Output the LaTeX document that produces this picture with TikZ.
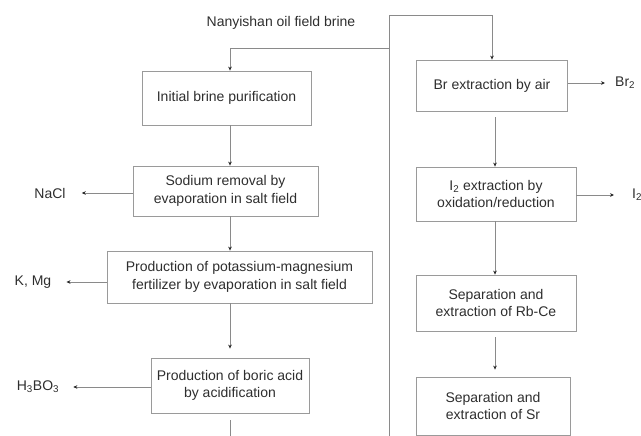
\documentclass[tikz,border=0pt]{standalone}
\usepackage{fontspec}
\setmainfont{Liberation Sans}
\usetikzlibrary{arrows.meta}
\definecolor{txt}{HTML}{2E2E2E}
\definecolor{ln}{HTML}{8A8A8A}
\definecolor{bx}{HTML}{9A9A9A}
\tikzset{
  procbox/.style={draw=bx, line width=0.8pt, rectangle, align=center, inner sep=0pt,
    text=txt, font=\fontsize{14}{17.5}\selectfont},
  lbl/.style={inner sep=0pt, text=txt, font=\fontsize{14}{17}\selectfont},
  conn/.style={draw=ln, line width=0.8pt},
  arr/.style={conn, -{Stealth[length=4pt,width=3.6pt,color=black!85]}}
}
\begin{document}
\begin{tikzpicture}[x=1pt,y=-1pt]
\useasboundingbox (0,0) rectangle (641,436);
% boxes
\node[procbox, minimum width=169pt, minimum height=54pt] (init) at (226.5,98) {Initial brine purification};
\node[procbox, minimum width=185pt, minimum height=50pt] (sod) at (225.5,191) {Sodium removal by\\evaporation in salt field};
\node[procbox, minimum width=265pt, minimum height=52pt] (pot) at (239.5,277) {Production of potassium-magnesium\\fertilizer by evaporation in salt field};
\node[procbox, minimum width=158pt, minimum height=55pt] (bor) at (230,385.5) {Production of boric acid\\by acidification};
\node[procbox, minimum width=151pt, minimum height=51pt] (br) at (492,85.5) {Br extraction by air};
\node[procbox, minimum width=160pt, minimum height=54pt] (iod) at (496,194) {I\textsubscript{2} extraction by\\oxidation/reduction};
\node[procbox, minimum width=160pt, minimum height=56pt] (rb) at (496,303) {Separation and\\extraction of Rb-Ce};
\node[procbox, minimum width=154pt, minimum height=58pt] (sr) at (493,406) {Separation and\\extraction of Sr};
% labels
\node[lbl] (title) at (281,23) {Nanyishan oil field brine};
\node[lbl] (nacl) at (50,193) {NaCl};
\node[lbl] (kmg) at (33,282) {K, Mg};
\node[lbl] (hbo) at (38,387) {H\textsubscript{3}BO\textsubscript{3}};
\node[lbl, anchor=west] (brtwo) at (615,83) {Br\textsubscript{2}};
\node[lbl, anchor=west] (itwo) at (632,195) {I\textsubscript{2}};
% routing coordinates
\coordinate (colL) at (230,0);
\coordinate (colR) at (495,0);
\coordinate (topc) at (389,15);
\coordinate (botc) at (389,436);
\coordinate (jl) at (389,48);
\coordinate (bend) at (230,436);
% connectors
\draw[arr] (botc) -- (topc) -| (br.north);
\draw[arr] (jl) -| (init.north -| colL);
\draw[arr] (init.south -| colL) -- (sod.north -| colL);
\draw[arr] (sod.south -| colL) -- (pot.north -| colL);
\draw[arr, shorten >=9pt] (pot.south -| colL) -- (bor.north -| colL);
\draw[conn, shorten <=7pt] (bor.south -| colL) -- (bend);
\draw[arr, shorten >=16pt] (sod.west |- nacl) -- (nacl.east);
\draw[arr, shorten >=15pt] (pot.west |- kmg) -- (kmg.east);
\draw[arr, shorten >=14pt] (bor.west |- hbo) -- (hbo.east);
\draw[arr, shorten >=10pt] (br.east |- brtwo.west) -- (brtwo.west);
\draw[arr, shorten >=18pt] (iod.east |- itwo.west) -- (itwo.west);
\draw[arr, shorten <=6pt] (br.south -| colR) -- (iod.north -| colR);
\draw[arr] (iod.south -| colR) -- (rb.north -| colR);
\draw[arr, shorten <=6pt, shorten >=7pt] (rb.south -| colR) -- (sr.north -| colR);
\end{tikzpicture}
\end{document}
